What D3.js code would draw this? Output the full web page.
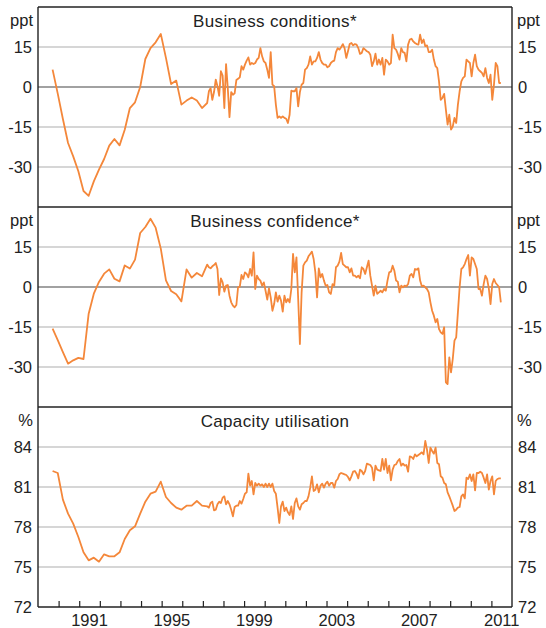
<!DOCTYPE html>
<html>
<head>
<meta charset="utf-8">
<script src="https://cdn.jsdelivr.net/npm/d3@7"></script>
<style>
  body { margin: 0; background: #fff; }
  text { font-family: "Liberation Sans", Arial, sans-serif; fill: #222; }
</style>
</head>
<body>
<div id="chart"></div>
<script>
// Quarterly survey (Sep 1989 - Mar 1997), then monthly (Apr 1997 - Jun 2011)
var condQuarterly = [6.5, -2.5, -12, -21, -26, -31.6, -39, -40.8, -35.4, -31, -27, -22, -19.5, -21.9, -16, -7.9,
  -5.75, 0, 10.5, 14.6, 16.75, 19.9, 10.9, 1.1, 2.4, -6.6, -5.1, -3.9, -5.1, -7.9, -6];
var condMonthly = [-1.6, -0.4, -4.8, -1.9, 2.8, 0.3, -3.3, 5.9, 4.3, -7.9,
  8.6, -0.4, -11.3, -1.9, -2.9, -2.4, 2.6, 3.1, 3.6, 7.8,
  6.5, 8.4, 9.9, 11.1, 8.4, 9.0, 8.6, 9.0, 10.3, 10.9,
  14.6, 11.5, 9.6, 9.0, 6.5, 3.4, 13.1, 0.9, 0.3, -6.6,
  -11.6, -11.0, -11.6, -11.0, -11.6, -11.9, -13.5, -10.4, -1.4, -1.6,
  -1.6, -0.4, -7.3, -1.9, 0.9, 1.5, 6.5, 7.1, 8.4, 11.5,
  8.4, 9.6, 9.6, 10.9, 13.1, 10.3, 9.0, 8.4, 8.4, 7.4,
  7.8, 9.0, 9.6, 9.9, 13.1, 14.6, 14.0, 14.9, 16.1, 14.6,
  10.9, 13.4, 16.1, 16.5, 15.6,
  16.1, 15.9, 14.6, 12.4, 12.8, 14.6, 14.0, 13.4, 13.1, 12.1,
  7.8, 9.6, 12.5, 8.4, 10.3, 8.4, 10.9, 4.6, 10.3, 9.6,
  8.4, 9.0, 19.6, 14.6, 14.0, 12.4, 10.3, 14.6, 13.1, 12.8,
  9.6, 15.9, 17.8, 18.1, 17.1, 16.5, 16.1, 15.9, 19.6, 16.5,
  17.8, 15.3, 15.6, 13.1, 13.1, 14.0, 10.3, 7.8, 7.1, 2.1,
  -4.8, -4.1, -2.6, -8.5, -14.1, -10.4, -16.0, -14.8, -11.6, -13.5,
  -6.6, -1.6, 2.1, 3.4, 4.0, 10.3, 9.6, 9.0, 4.0, 9.0,
  12.1, 7.8, 6.5, 5.9, 5.3, 4.0, 7.1, 3.4, 1.5, 4.6,
  -4.8, 0.9, 9.0, 7.8, 1.5, 1.5];

var confQuarterly = [-15.6, -19.9, -24.4, -28.75, -27.5, -26.6, -27, -10, -2.5, 1.9, 5, 6.6, 3.1, 2.1, 8.1, 6.9,
  10.25, 20.25, 22.5, 25.6, 22.25, 14.4, 2.5, -1.5, -2.75, -5.4, 6.6, 3.5, 5.25, 4, 8.4];
var confMonthly = [7.4, 7.0, 7.75, 8.25, 9.0, 6.75, -3.0, 3.25, 1.75, -1.75,
  0.5, 0.75, -3.25, -5.75, -7, -7.6, -6.75, -0.1, 0.1, 4.5,
  3, 5.5, 4.9, 3.6, 6.75, 4.25, 13, -0.75, 4.25, 3,
  2.4, 0.5, 1.75, -1.4, -4.75, -0.5, -3.9, -8.9, -6.4, -2,
  -5.5, -3.25, -5.1, -9.25, -3.25, -5.75, -4.5, -5.75, -0.75, 12.4,
  5.5, 11.1, -4.5, -21.4, -2, 8, 9.25, 9.9, 11.5, 12.4,
  13.25, 10.5, 5.5, -3.9, 7, 3.6, 4.9, 2.4, 0.5, 0.75,
  -2, -2.6, 1.1, 0.5, 7.4, 8, 9.5, 12.75, 8.6, 8,
  7.4, 7.4, 5.5, 7, 4.25,
  4.25, 3.6, 4.25, 3.25, 7.4, 6.75, 4.9, 7.4, 9.9, 4.25,
  0.5, -3.25, 0.5, -2.6, -2, -1.4, -2, -0.75, -1.4, 2.4,
  5.5, 5.75, 8, 6.1, 2.4, 2, -2, 0.5, -0.1, 0.5,
  0.25, 1.1, 4.25, 4.9, 3.6, 6.75, 6.5, 7, 2.4, 0.25,
  0.5, -0.1, -0.75, -2, -5.75, -8.9, -10.75, -13.25, -12, -15.75,
  -17, -17.6, -15.1, -35.75, -36.4, -26.4, -32, -27, -20.1, -18.9,
  -9.5, -0.1, 6.75, 7.4, 8.6, 10.5, 12, 4.25, 11.1, 10.5,
  8.6, 6.75, -0.75, -0.75, -3.25, 1.1, 4.25, 3, -0.5, -6.4,
  1.1, 3, 1.5, 0.75, -0.1, -5.75];

var capQuarterly = [82.2, 82.05, 80.05, 79, 78.25, 77.25, 76.1, 75.5, 75.7, 75.4, 75.95, 75.8, 75.8, 76.1, 77.1, 77.75,
  78.05, 79, 79.9, 80.5, 80.65, 81.4, 80.25, 79.8, 79.45, 79.3, 79.6, 79.6, 79.95, 79.6, 79.55];
var capMonthly = [79.45, 79.8, 79.9, 79.25, 79.3, 79.7, 79.9, 79.8, 80.2, 80.3,
  79.7, 79.95, 79.7, 79.3, 78.8, 79.5, 79.6, 79.6, 79.95, 79.75,
  80.1, 80.5, 80.6, 82, 81.1, 81.45, 80.45, 81.3, 81.1, 81.25,
  81.1, 81.2, 81, 81.25, 81, 81.25, 81, 81.25,
  80.7, 80.5, 79.45, 78.3, 79.55, 79.9, 79.2, 79.45, 79.1, 78.9,
  79.55, 78.6, 79.8, 80.15, 79.55, 79.3, 79.7, 79.8, 79.95, 79.95,
  80.3, 80.95, 81.8, 80.7, 80.8, 81.2, 80.6, 81.1, 81.25, 80.95,
  81.25, 81.4, 81.1, 81.3, 81.3, 80.95, 81.45, 81.6, 81.95, 82.05,
  82, 81.95, 81.9, 81.75, 81.5, 81.8, 82.15,
  82.2, 82, 81.65, 82.3, 82.2, 81.95, 82.2, 82.75, 82.7, 82.65,
  82.45, 81.5, 82.6, 82.3, 82.25, 82.2, 83.1, 82.3, 83.1, 82.05,
  82.6, 81.5, 82.3, 82.65, 82.7, 82.95, 83.1, 82.6, 82.75, 82.6,
  82.65, 82.15, 83.3, 83.25, 83.1, 83.45, 83.3, 83.4, 83.5, 83.6,
  83.45, 84.45, 83.8, 82.8, 83.95, 83.7, 83.5, 83.95, 82.8, 82.7,
  81.8, 81.7, 81.3, 81.2, 80.6, 80.3, 79.95, 79.6, 79.2, 79.3,
  79.45, 79.5, 80.3, 80.45, 80.15, 81.7, 81.6, 81.95, 81.45, 81.95,
  80.75, 82.05, 82.05, 82.15, 82.05, 81.7, 81.3, 81.95, 80.8, 81.45,
  81.8, 80.45, 81.45, 81.6, 81.65, 81.65];

var yearLabels = [1991, 1995, 1999, 2003, 2007, 2011];
var ppTicks = [-30, -15, 0, 15];
var capTicks = [72, 75, 78, 81, 84];

var panels = [
  { title: "Business conditions*", unit: "ppt", quarterly: condQuarterly, monthly: condMonthly,
    domain: [-45, 30], ticks: ppTicks, zero: true },
  { title: "Business confidence*", unit: "ppt", quarterly: confQuarterly, monthly: confMonthly,
    domain: [-45, 30], ticks: ppTicks, zero: true },
  { title: "Capacity utilisation", unit: "%", quarterly: capQuarterly, monthly: capMonthly,
    domain: [72, 87], ticks: capTicks, zero: false }
];

var svgWidth = 546;
var svgHeight = 628;
var plotLeft = 38, plotRight = 512, plotTop = 7, panelHeight = 200;
var orange = "#f4873a";

var svg = d3.select("#chart")
  .append("svg")
  .attr("width", svgWidth)
  .attr("height", svgHeight);

var xScale = d3.scaleLinear().domain([1989, 2012]).range([plotLeft, plotRight]);

// build dated points: quarterly at Sep/Dec/Mar/Jun, monthly mid-month
function toPoints(quarterly, monthly) {
  var pts = quarterly.map(function(v, k) {
    return { t: 1989 + 8.5 / 12 + k * 0.25, v: v };
  });
  monthly.forEach(function(v, i) {
    pts.push({ t: 1997 + 3.5 / 12 + i / 12, v: v });
  });
  return pts;
}

panels.forEach(function(p, idx) {
  var y0 = plotTop + idx * panelHeight;
  var yScale = d3.scaleLinear().domain(p.domain).range([y0 + panelHeight, y0]);
  var g = svg.append("g");

  // gridlines
  g.selectAll(".grid")
    .data(p.ticks.filter(function(t) { return t !== p.domain[0]; }))
    .enter()
    .append("line")
    .attr("x1", plotLeft)
    .attr("x2", plotRight)
    .attr("y1", function(d) { return yScale(d); })
    .attr("y2", function(d) { return yScale(d); })
    .attr("stroke", function(d) { return (p.zero && d === 0) ? "#444" : "#c8c8c8"; })
    .attr("stroke-width", function(d) { return (p.zero && d === 0) ? 1.2 : 1.3; });

  // tick labels both sides
  var tickLabels = p.ticks.filter(function(t) {
    return t !== p.domain[0] || idx === panels.length - 1;
  });
  g.selectAll(".ly")
    .data(tickLabels)
    .enter()
    .append("text")
    .attr("x", plotLeft - 6)
    .attr("y", function(d) { return yScale(d); })
    .attr("dy", "0.36em")
    .attr("text-anchor", "end")
    .attr("font-size", 16.5)
    .text(function(d) { return d; });
  g.selectAll(".ry")
    .data(tickLabels)
    .enter()
    .append("text")
    .attr("x", plotRight + 6)
    .attr("y", function(d) { return yScale(d); })
    .attr("dy", "0.36em")
    .attr("text-anchor", "start")
    .attr("font-size", 16.5)
    .text(function(d) { return d; });

  // units
  g.append("text").attr("x", plotLeft - 5).attr("y", y0 + 14).attr("dy", "0.3em")
    .attr("text-anchor", "end").attr("font-size", 16.5).text(p.unit);
  g.append("text").attr("x", plotRight + 5).attr("y", y0 + 14).attr("dy", "0.3em")
    .attr("text-anchor", "start").attr("font-size", 16.5).text(p.unit);

  // title
  g.append("text")
    .attr("x", (plotLeft + plotRight) / 2)
    .attr("y", y0 + 20)
    .attr("text-anchor", "middle")
    .attr("font-size", 17)
    .attr("letter-spacing", 0.35)
    .text(p.title);

  // series line
  var line = d3.line()
    .x(function(d) { return xScale(d.t); })
    .y(function(d) { return yScale(d.v); });
  g.append("path")
    .datum(toPoints(p.quarterly, p.monthly))
    .attr("d", line)
    .attr("fill", "none")
    .attr("stroke", orange)
    .attr("stroke-width", 1.8)
    .attr("stroke-linejoin", "round");
});

// frame: outer box and panel separators
var frame = svg.append("g").attr("stroke", "#222").attr("stroke-width", 1.4);
frame.append("line").attr("x1", plotLeft).attr("x2", plotLeft).attr("y1", plotTop).attr("y2", plotTop + 3 * panelHeight);
frame.append("line").attr("x1", plotRight).attr("x2", plotRight).attr("y1", plotTop).attr("y2", plotTop + 3 * panelHeight);
[0, 1, 2, 3].forEach(function(k) {
  frame.append("line").attr("x1", plotLeft).attr("x2", plotRight)
    .attr("y1", plotTop + k * panelHeight).attr("y2", plotTop + k * panelHeight);
});

// bottom axis: yearly ticks pointing inward, labels at mid-year
var plotBottom = plotTop + 3 * panelHeight;
var xAxis = d3.axisBottom(xScale)
  .tickValues(d3.range(1990, 2012))
  .tickSize(-6)
  .tickFormat("");
var axisG = svg.append("g")
  .attr("transform", `translate(0, ${plotBottom})`)
  .call(xAxis);
axisG.select(".domain").remove();
axisG.selectAll(".tick line").attr("stroke", "#222").attr("stroke-width", 1.2);

svg.selectAll(".xl")
  .data(yearLabels)
  .enter()
  .append("text")
  .attr("x", function(d) { return xScale(d + 0.5); })
  .attr("y", plotBottom + 13)
  .attr("dy", "0.36em")
  .attr("text-anchor", "middle")
  .attr("font-size", 16.5)
  .text(function(d) { return d; });
</script>
</body>
</html>
